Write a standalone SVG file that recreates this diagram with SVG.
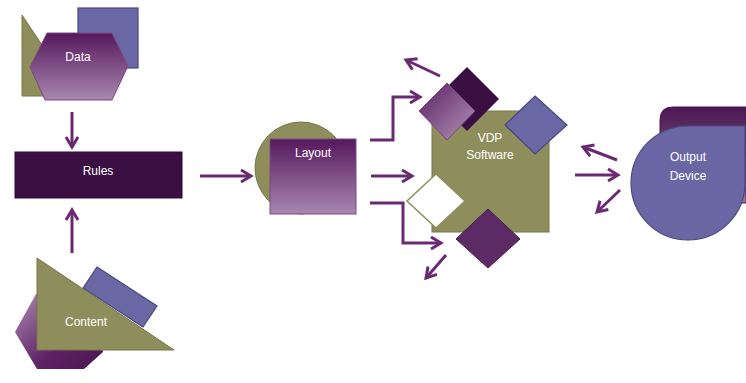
<svg xmlns="http://www.w3.org/2000/svg" width="746" height="383" viewBox="0 0 746 383">
<defs>
<style>
.lbl{font-family:"Liberation Sans",Arial,sans-serif;font-size:12px;fill:#ffffff;text-anchor:middle}
.olive{fill:#8e8e5c;stroke:#76764a;stroke-width:1}
.blue{fill:#6a68a4;stroke:#4a4880;stroke-width:1.2}
.conn{fill:none;stroke:#6a2a72;stroke-width:3;marker-end:url(#ah)}
</style>
<linearGradient id="gPurple" x1="0" y1="0" x2="0" y2="1">
<stop offset="0" stop-color="#55185c"/>
<stop offset="1" stop-color="#a987b0"/>
</linearGradient>
<linearGradient id="gDiag" x1="0" y1="0" x2="1" y2="1">
<stop offset="0" stop-color="#5a1f62"/>
<stop offset="1" stop-color="#b394b9"/>
</linearGradient>
<linearGradient id="gContent" x1="0" y1="0" x2="1" y2="1">
<stop offset="0" stop-color="#b08db5"/>
<stop offset="0.6" stop-color="#5e2366"/>
<stop offset="1" stop-color="#4a1450"/>
</linearGradient>
<linearGradient id="gOut" x1="0" y1="0" x2="0" y2="1">
<stop offset="0" stop-color="#4a1650"/>
<stop offset="1" stop-color="#9a7aa2"/>
</linearGradient>
<marker id="ah" markerWidth="14" markerHeight="16" refX="11" refY="7" orient="auto" markerUnits="userSpaceOnUse">
<path d="M1,1 L11,7 L1,13" fill="none" stroke="#6a2a72" stroke-width="3"/>
</marker>
</defs>
<rect width="746" height="383" fill="#ffffff"/>

<g id="data">
<polygon class="olive" points="22,15 22,96 76,96"/>
<rect class="blue" x="78" y="8" width="60" height="60"/>
<polygon fill="url(#gPurple)" stroke="#7a4a82" stroke-width="1" points="47,33 112,33 128,66 112,100 45,100 30,67"/>
<text class="lbl" x="78" y="61">Data</text>
</g>

<g id="rules">
<rect x="15" y="152" width="167" height="46" fill="#3a1042" stroke="#2a0a30" stroke-width="1"/>
<text class="lbl" x="98" y="175">Rules</text>
</g>

<g id="content">
<polygon fill="url(#gContent)" points="15,332 36,294 82,292 103,352 84,369 37,369"/>
<polygon class="blue" points="97,267 157,306 143,327 83,288"/>
<polygon class="olive" points="37,258 37,350 174,350"/>
<text class="lbl" x="86" y="326">Content</text>
</g>

<g id="layout">
<circle class="olive" cx="301" cy="168" r="46"/>
<rect x="270" y="139" width="86" height="75" fill="url(#gPurple)" stroke="#7a4a82" stroke-width="1"/>
<text class="lbl" x="313" y="157">Layout</text>
</g>

<g id="vdp">
<rect class="olive" x="432" y="111" width="117" height="121"/>
<polygon fill="#3a1042" points="467,67 499,99 467,131 435,99"/>
<polygon fill="url(#gDiag)" stroke="#7a4a82" stroke-width="1" points="447,83 475,111 447,140 419,111"/>
<polygon class="blue" points="535,96 567,125 535,154 505,125"/>
<polygon fill="#ffffff" stroke="#8e8e5c" stroke-width="1.5" points="436,174 465,201 436,228 407,201"/>
<polygon fill="#5c2a64" stroke="#4a1a50" stroke-width="1" points="488,209 520,239 488,268 456,239"/>
<text class="lbl" x="490" y="142">VDP</text>
<text class="lbl" x="490" y="159">Software</text>
</g>

<g id="output">
<path d="M660,120 Q660,107 673,107 L746,107 L746,203 L660,203 Z" fill="url(#gOut)" stroke="#4a1650" stroke-width="1"/>
<path d="M688,126 L745,126 L745,183 A57,57 0 1 1 688,126 Z" fill="#6a66a4" stroke="#4a4880" stroke-width="1.2"/>
<text class="lbl" x="688" y="161">Output</text>
<text class="lbl" x="688" y="180">Device</text>
</g>

<g id="connectors">
<line class="conn" x1="72" y1="112" x2="72" y2="147"/>
<line class="conn" x1="72" y1="253" x2="72" y2="210"/>
<line class="conn" x1="200" y1="176" x2="251" y2="176"/>
<polyline class="conn" points="370,140 393,140 393,97 420,97"/>
<line class="conn" x1="440" y1="76" x2="406" y2="60"/>
<line class="conn" x1="371" y1="176" x2="412" y2="176"/>
<polyline class="conn" points="370,203 403,203 403,243 441,243"/>
<line class="conn" x1="446" y1="255" x2="426" y2="278"/>
<line class="conn" x1="575" y1="175" x2="618" y2="175"/>
<line class="conn" x1="617" y1="160" x2="583" y2="147"/>
<line class="conn" x1="620" y1="190" x2="597" y2="212"/>
</g>
</svg>
